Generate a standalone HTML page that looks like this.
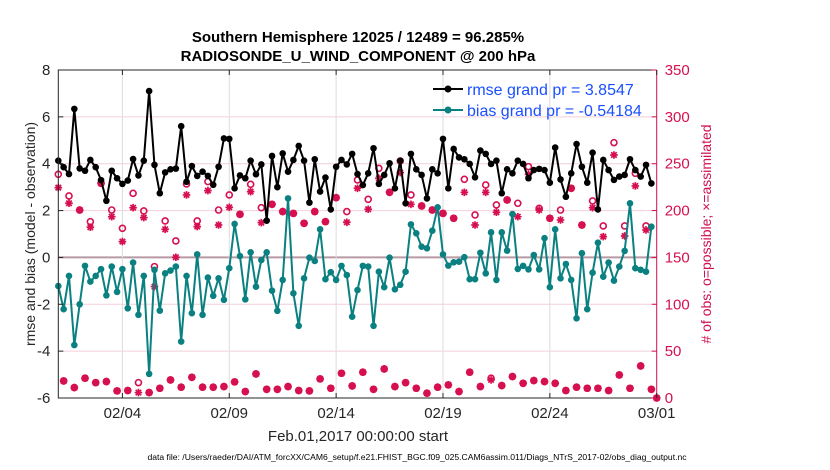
<!DOCTYPE html>
<html><head><meta charset="utf-8">
<style>
html,body{margin:0;padding:0;background:#fff;}
svg{display:block;font-family:"Liberation Sans",Arial,sans-serif;}
</style></head>
<body>
<svg id="chart" width="830" height="470" viewBox="0 0 830 470" xmlns="http://www.w3.org/2000/svg">
<text x="358" y="42" text-anchor="middle" font-size="15" font-weight="bold" fill="#000">Southern Hemisphere 12025 / 12489 = 96.285%</text>
<text x="358" y="61" text-anchor="middle" font-size="15" font-weight="bold" fill="#000">RADIOSONDE_U_WIND_COMPONENT @ 200 hPa</text>
<g id="grid"></g>
<g id="marks"></g>
<g id="axes"></g>
<text transform="translate(35,234) rotate(-90)" text-anchor="middle" font-size="14" fill="#262626">rmse and bias (model - observation)</text>
<text transform="translate(711,234) rotate(-90)" text-anchor="middle" font-size="14" fill="#d0104f">#  of obs: o=possible; ×=assimilated</text>
<text x="358" y="441" text-anchor="middle" font-size="15" fill="#262626">Feb.01,2017 00:00:00 start</text>
<text x="417" y="460" text-anchor="middle" font-size="8.6" fill="#000">data file: /Users/raeder/DAI/ATM_forcXX/CAM6_setup/f.e21.FHIST_BGC.f09_025.CAM6assim.011/Diags_NTrS_2017-02/obs_diag_output.nc</text>
<g>
<line x1="433" y1="89" x2="463" y2="89" stroke="#000" stroke-width="2"/>
<circle cx="448" cy="89" r="3.5" fill="#000"/>
<text x="467" y="95" font-size="16" fill="#1a4fff">rmse grand pr = 3.8547</text>
<line x1="433" y1="110" x2="463" y2="110" stroke="#0a8080" stroke-width="2"/>
<circle cx="448" cy="110" r="3.5" fill="#0a8080"/>
<text x="467" y="116" font-size="16" fill="#1a4fff">bias grand pr = -0.54184</text>
</g>
</svg>
<script>
const rmse=[4.13,3.85,3.56,6.34,3.8,3.7,4.16,3.85,3.3,2.42,
3.7,3.38,3.14,3.28,4.2,3.5,4.13,7.1,3.95,2.74,
3.63,3.76,3.79,5.6,3.23,3.9,3.48,3.66,3.48,3.1,
3.87,5.08,5.06,2.95,3.5,3.38,4.13,3.55,3.97,1.57,
4.33,3.0,4.44,3.66,4.16,4.76,4.13,2.34,4.19,2.81,
3.41,2.05,3.87,4.16,3.97,4.42,3.56,3.09,3.59,4.66,
3.14,3.52,4.02,2.95,4.13,2.31,4.42,3.76,3.52,2.52,
3.76,3.59,5.06,2.95,4.63,4.27,4.19,3.99,3.42,4.56,
4.42,3.99,4.13,2.74,3.76,3.59,4.13,3.99,3.38,3.73,
3.78,3.73,3.19,4.69,3.33,2.59,3.59,4.84,3.87,3.19,
4.47,2.05,4.16,3.73,3.31,3.45,3.52,4.19,3.73,3.45,3.95,3.16];
const bias=[-1.22,-2.21,-0.79,-3.74,-2.0,-0.36,-1.03,-0.79,-0.5,-1.62,
-0.39,-1.47,-0.5,-2.17,-0.22,-2.45,-0.79,-4.97,-0.53,-2.27,
-0.68,-0.56,-0.39,-3.59,-0.79,-2.38,0.13,-2.45,-0.86,-1.64,
-0.89,-1.81,-0.46,1.43,0.06,-1.79,0.22,-1.25,-0.11,0.22,
-1.42,-2.28,-0.96,2.52,-1.53,-2.92,-0.89,-0.01,-0.15,1.2,
-0.93,-0.63,-0.96,-0.36,-0.75,-2.53,-1.39,-0.36,-0.39,-2.92,
-0.61,-1.27,-0.01,-1.36,-1.17,-0.61,1.41,1.03,0.46,0.39,
1.14,2.14,0.13,-0.35,-0.21,-0.18,0.01,-0.93,-0.93,0.2,
-0.68,1.07,-0.96,1.07,0.29,1.85,-0.49,-0.36,-0.51,0.1,
-0.51,0.82,-1.27,1.2,-0.89,-0.28,-0.96,-2.6,0.18,-2.21,
-0.65,0.63,-0.82,-0.22,-0.99,-0.39,0.28,2.31,-0.46,-0.53,-0.61,1.31];
const possible=[238.7,18.2,215.6,11.1,200.6,21.1,188.2,16.4,229.1,17.5,
200.6,7.6,181.1,8,218.4,16.4,199.6,5.8,140.2,10.4,
188.9,19.3,167.6,11.5,228.4,22.1,188.9,11.5,230.9,11.5,
200.6,12.2,216.7,17.2,196,6.9,228,25.7,203.1,9.3,
206.7,9.3,198.9,12.2,197,8,186.4,7.6,198.9,20.4,
188.2,10.4,213.8,26.4,198.9,12.9,232.7,27.5,212,9.3,
245.1,31,219.5,12.2,252.9,16.4,216.7,10.4,204.9,5.1,
200.6,11.5,197,14,191.8,6.9,233.4,27.5,195.3,12.2,
227.3,21.1,206,13.3,211.3,22.9,207.8,15.7,246.9,18.6,
202.4,17.5,191.8,15.7,200.6,8,223.8,11.5,184.6,10.4,
210.3,10.4,183.6,8,272.5,24.6,183.6,10.4,239.8,34.2,
183.6,9.3,0];
const assimilated=[224.5,18.2,207.8,11.1,200.6,21.1,182.2,16.4,229.1,17.5,
193.5,7.6,166.9,8,203.1,5.8,192.5,5.8,118.9,10.4,
180,19.3,150.2,11.5,216.7,22.1,182.9,11.5,221.3,11.5,
184.6,12.2,203.5,17.2,196,6.9,220.2,25.7,187.1,9.3,
206.7,9.3,198.9,12.2,197,8,186.4,7.6,198.9,20.4,
188.2,10.4,213.8,26.4,187.5,12.9,223.8,27.5,201.4,9.3,
234.4,31,219.5,12.2,240.5,16.4,206.7,10.4,204.9,5.1,
200.6,11.5,197,14,191.8,6.9,219.5,27.5,184.6,12.2,
219.5,19.3,198.2,13.3,211.3,22.9,193.5,15.7,238.7,18.6,
200.6,17.5,191.8,15.7,190,8,223.8,11.5,184.6,10.4,
203.1,10.4,172.2,8,259.3,24.6,172.9,10.4,226.3,34.2,
179.3,9.3,0];
const xTickDays=[3,8,13,18,23,28];
const xTickLabels=["02/04","02/09","02/14","02/19","02/24","03/01"];
const yLeftTicks=[-6,-4,-2,0,2,4,6,8];
const yRightTicks=[0,50,100,150,200,250,300,350];
const stepDays=0.25;

const L=58.3,R=656.7,T=70,B=398;
const xs=d=>L+(d/28)*(R-L);
const yl=v=>T+(8-v)/14*(B-T);
const yr=c=>B-c/350*(B-T);
const NS="http://www.w3.org/2000/svg";
function mk(tag,attrs,parent){const e=document.createElementNS(NS,tag);for(const k in attrs)e.setAttribute(k,attrs[k]);parent.appendChild(e);return e;}
const grid=document.getElementById('grid'),marks=document.getElementById('marks'),axes=document.getElementById('axes');

yLeftTicks.forEach(v=>{
  if(v===-6||v===8)return;
  const g=mk('line',{x1:L,x2:R,y1:yl(v),y2:yl(v),stroke:v===0?'#b89aa5':'#f2cfdc','stroke-width':v===0?2:1},grid);
  
  
});
xTickDays.forEach(d=>{
  if(d===28)return;
  const g=mk('line',{x1:xs(d),x2:xs(d),y1:T,y2:B,stroke:'#dcdcdc','stroke-width':1},grid);
  
  
});

const crim='#d6104f';
possible.forEach((c,i)=>{
  const x=xs(i*stepDays);
  const a=assimilated[i];
  const ya=yr(a),s=3.8;
  const st=mk('path',{d:`M${x-s} ${ya}H${x+s}M${x} ${ya-s}V${ya+s}M${x-s*0.72} ${ya-s*0.72}L${x+s*0.72} ${ya+s*0.72}M${x-s*0.72} ${ya+s*0.72}L${x+s*0.72} ${ya-s*0.72}`,stroke:crim,'stroke-width':1.7,fill:'none'},marks);
  
  
  const ci=mk('circle',{cx:x,cy:yr(c),r:3,fill:'none',stroke:crim,'stroke-width':1.6},marks);
  
  
});
function series(arr,color,name){
  const pts=arr.map((v,i)=>xs(i*stepDays).toFixed(2)+','+yl(v).toFixed(2)).join(' ');
  const pl=mk('polyline',{points:pts,fill:'none',stroke:color,'stroke-width':2,'stroke-linejoin':'round'},marks);
  
  
  arr.forEach((v,i)=>{
    const c=mk('circle',{cx:xs(i*stepDays),cy:yl(v),r:3.3,fill:color},marks);
    
    
  });
}
series(bias,'#0a8080','bias');
series(rmse,'#000','rmse');

mk('path',{d:`M${R} ${T}H${L}V${B}H${R}`,stroke:'#262626','stroke-width':1,fill:'none'},axes);
const ra=mk('line',{x1:R,x2:R,y1:T,y2:B,stroke:crim,'stroke-width':1},axes);


yLeftTicks.forEach(v=>{
  mk('line',{x1:L,x2:L+5,y1:yl(v),y2:yl(v),stroke:'#262626'},axes);
  const t=mk('text',{x:L-8,y:yl(v)+5,'text-anchor':'end','font-size':15,fill:'#262626'},axes);
  t.textContent=v;
  
  
});
yRightTicks.forEach(c=>{
  mk('line',{x1:R-5,x2:R,y1:yr(c),y2:yr(c),stroke:crim},axes);
  const t=mk('text',{x:R+8,y:yr(c)+5,'text-anchor':'start','font-size':15,fill:crim},axes);
  t.textContent=c;
  
  
});
xTickDays.forEach((d,i)=>{
  mk('line',{x1:xs(d),x2:xs(d),y1:B,y2:B-5,stroke:'#262626'},axes);
  mk('line',{x1:xs(d),x2:xs(d),y1:T,y2:T+5,stroke:'#262626'},axes);
  const t=mk('text',{x:xs(d),y:B+20,'text-anchor':'middle','font-size':15,fill:'#262626'},axes);
  t.textContent=xTickLabels[i];
  
  
});
</script>
</body></html>
